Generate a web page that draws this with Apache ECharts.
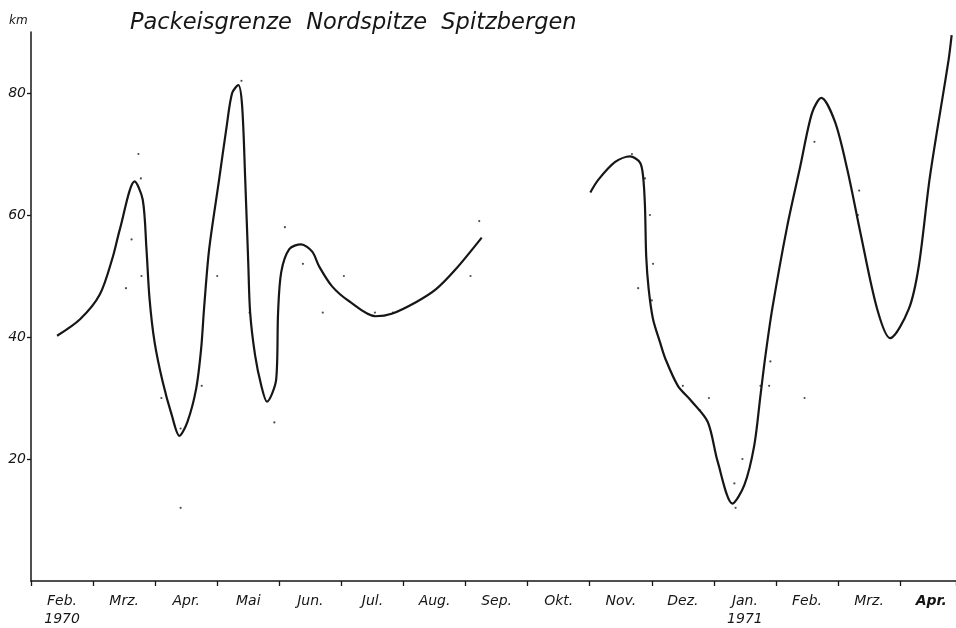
<!DOCTYPE html>
<html>
<head>
<meta charset="utf-8">
<script src="https://cdn.jsdelivr.net/npm/echarts@6/dist/echarts.min.js"></script>
<style>
  html, body { margin: 0; padding: 0; background: #fff; }
  #chart { width: 956px; height: 628px; }
</style>
</head>
<body>
<div id="chart"></div>
<script>
// Months from Feb 1970 to Apr 1971; x values are months elapsed since 1 Feb 1970
const monthLabels = ['Feb.', 'Mrz.', 'Apr.', 'Mai', 'Jun.', 'Jul.', 'Aug.', 'Sep.', 'Okt.',
                     'Nov.', 'Dez.', 'Jan.', 'Feb.', 'Mrz.', 'Apr.'];
const yearLabels = { 0: '1970', 11: '1971' };
const yTicks = [20, 40, 60, 80];

// Smoothed ice-edge distance, Feb - Sep 1970 (km)
const curve1Months = [0.42, 0.79, 1.11, 1.32, 1.43, 1.67, 1.80, 1.86, 1.91, 1.99, 2.12, 2.27,
                      2.39, 2.52, 2.66, 2.74, 2.79, 2.87, 3.03, 3.15, 3.24, 3.34, 3.40, 3.45,
                      3.50, 3.53, 3.61, 3.71, 3.80, 3.95, 3.98, 4.03, 4.16, 4.35, 4.53, 4.64,
                      4.85, 5.12, 5.55, 5.81, 6.20, 6.52, 6.84, 7.26];
const curve1Km = [40.2, 42.9, 47.0, 53.2, 57.6, 65.5, 62.5, 54.4, 46.2, 39.2, 32.7, 27.1,
                  23.8, 26.1, 31.5, 38.0, 45.0, 54.4, 65.8, 74.4, 80.0, 81.3, 78.0, 66.0,
                  52.0, 44.0, 37.0, 32.0, 29.4, 33.1, 44.0, 50.6, 54.4, 55.2, 54.0, 51.6,
                  48.3, 45.9, 43.4, 43.8, 45.7, 47.8, 51.1, 56.3];

// Smoothed ice-edge distance, Nov 1970 - Apr 1971 (km)
const curve2Months = [9.01, 9.14, 9.41, 9.65, 9.81, 9.86, 9.89, 9.91, 9.95, 10.02, 10.13,
                      10.22, 10.42, 10.63, 10.90, 11.06, 11.30, 11.49, 11.65, 11.75, 11.83,
                      11.94, 12.18, 12.39, 12.58, 12.73, 12.95, 13.15, 13.36, 13.63, 13.84,
                      14.14, 14.30, 14.48, 14.78, 14.83];
const curve2Km = [63.7, 65.8, 68.7, 69.6, 68.6, 66.3, 61.4, 53.2, 47.8, 42.9, 39.2,
                  36.4, 32.0, 29.6, 26.1, 19.6, 12.7, 15.7, 22.2, 30.4, 36.9,
                  44.6, 58.1, 67.9, 76.7, 79.2, 75.3, 67.4, 57.1, 44.6, 39.8,
                  44.6, 51.6, 66.3, 85.4, 89.5];

// Individual observations (km)
const dotMonths = [1.73, 1.77, 3.39, 1.62, 1.53, 1.78, 3.00, 3.52, 4.09, 4.38, 2.10, 2.75,
                   3.92, 2.41, 2.41, 5.04, 4.70, 5.54, 5.83, 7.08, 7.22, 9.68, 9.89, 9.97,
                   10.02, 9.78, 10.00, 10.50, 10.92, 10.77, 11.46, 11.33, 11.35, 11.75,
                   11.89, 11.91, 12.46, 12.62, 13.34, 13.32];
const dotKm = [70, 66, 82, 56, 48, 50, 50, 44, 58, 52, 30, 32,
               26, 25, 12, 50, 44, 44, 44, 50, 59, 70, 66, 60,
               52, 48, 46, 32, 30, 28, 20, 16, 12, 32,
               32, 36, 30, 72, 64, 60];

const zip = (xs, ys) => xs.map((x, i) => [x, ys[i]]);

// Month names sit in the middle of each month interval
const monthCentres = monthLabels.map((_, i) => i + 0.5);

const ink = '#161616';
const labelFont = { fontFamily: 'DejaVu Sans', fontStyle: 'italic', color: ink };

const chart = echarts.init(document.getElementById('chart'), null, { renderer: 'canvas' });

chart.setOption({
  animation: false,
  backgroundColor: '#fff',
  title: {
    text: 'Packeisgrenze  Nordspitze  Spitzbergen',
    left: 125,
    top: 7,
    textStyle: { ...labelFont, fontWeight: 'normal', fontSize: 22.5 }
  },
  graphic: [{
    type: 'text',
    left: 9,
    top: 15,
    style: { text: 'km', font: 'italic 12px "DejaVu Sans"', fill: ink }
  }],
  grid: { left: 31, top: 32, right: 0, height: 551 },
  xAxis: {
    type: 'value',
    min: 0,
    max: 14.9,
    interval: 1,
    axisLine: { show: true, lineStyle: { color: ink, width: 1.5 } },
    axisTick: { show: true, length: 5, lineStyle: { color: ink, width: 1.3 } },
    axisLabel: {
      customValues: monthCentres,
      margin: 11,
      ...labelFont,
      fontSize: 14,
      lineHeight: 18,
      formatter: v => {
        const idx = Math.floor(v);
        const name = monthLabels[idx];
        if (idx === monthLabels.length - 1) return '{b|' + name + '}';
        return yearLabels[idx] ? name + '\n' + yearLabels[idx] : name;
      },
      rich: { b: { ...labelFont, fontSize: 14, fontWeight: 'bold' } }
    },
    splitLine: { show: false }
  },
  yAxis: {
    type: 'value',
    min: 0,
    max: 90,
    interval: 20,
    axisLine: { show: true, lineStyle: { color: ink, width: 1.5 } },
    axisTick: { show: true, length: 4, customValues: yTicks, lineStyle: { color: ink, width: 1.3 } },
    axisLabel: {
      margin: 5,
      ...labelFont,
      fontSize: 14,
      customValues: yTicks
    },
    splitLine: { show: false }
  },
  series: [{
    type: 'line',
    data: zip(curve1Months, curve1Km),
    smooth: 0.3,
    symbol: 'none',
    lineStyle: { color: ink, width: 2.2 }
  }, {
    type: 'line',
    data: zip(curve2Months, curve2Km),
    smooth: 0.3,
    symbol: 'none',
    lineStyle: { color: ink, width: 2.2 }
  }, {
    type: 'scatter',
    data: zip(dotMonths, dotKm),
    symbolSize: 2.2,
    itemStyle: { color: '#222' }
  }]
});
</script>
</body>
</html>
